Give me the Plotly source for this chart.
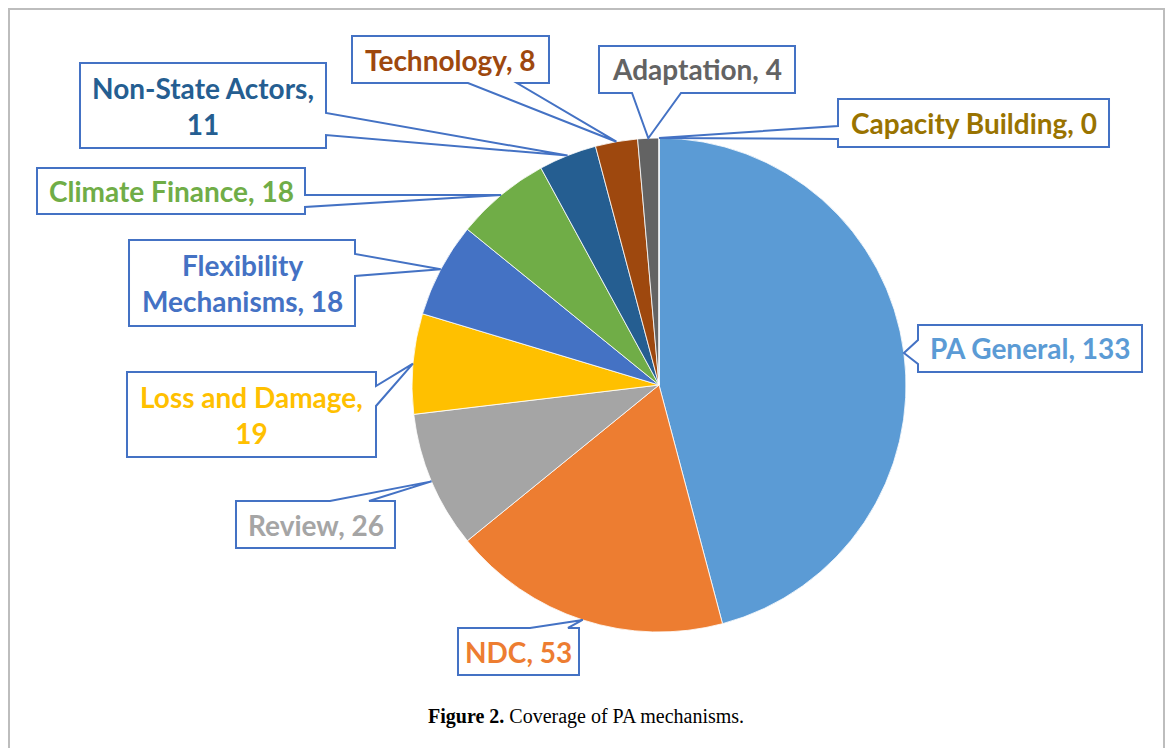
import math
import plotly.graph_objects as go

W, H = 1168, 748

categories = ["PA General", "NDC", "Review", "Loss and Damage", "Flexibility Mechanisms",
              "Climate Finance", "Non-State Actors", "Technology", "Adaptation", "Capacity Building"]
values = [133, 53, 26, 19, 18, 18, 11, 8, 4, 0]
colors = ["#5B9BD5", "#ED7D31", "#A5A5A5", "#FFC000", "#4472C4",
          "#70AD47", "#255E91", "#9E480E", "#636363", "#997300"]
label_text = ["PA General, 133", "NDC, 53", "Review, 26", "Loss and Damage,<br>19",
              "Flexibility<br>Mechanisms, 18", "Climate Finance, 18", "Non-State Actors,<br>11",
              "Technology, 8", "Adaptation, 4", "Capacity Building, 0"]

# callout layout (pixels): box x0, y0, x1, y1, side of wedge, wedge start/end along that side
callouts = [
    (918, 325, 1142, 372, "left", 340, 364),
    (458, 628, 579, 675, "top", 530, 568),
    (236, 501, 395, 548, "top", 330, 369),
    (127, 372, 376, 457, "right", 386, 406),
    (129, 240, 355, 326, "right", 254, 276),
    (37, 168, 305, 214, "right", 195, 207),
    (80, 63, 326, 148, "right", 113, 135),
    (352, 36, 549, 83, "bottom", 468, 517),
    (599, 46, 795, 93, "bottom", 632, 681),
    (838, 99, 1109, 147, "left", 126, 139),
]

# pie geometry (pixels)
CX, CY, R = 659, 385, 247

def px(x):
    return x / W

def py(y):
    return 1 - y / H

fig = go.Figure()
fig.add_trace(go.Pie(
    labels=categories, values=values, sort=False, direction="clockwise", rotation=0,
    marker=dict(colors=colors, line=dict(color="white", width=0.8)),
    textinfo="none", showlegend=False,
    domain=dict(x=[px(CX - R), px(CX + R)], y=[py(CY + R), py(CY - R)]),
))

total = sum(values)
cum = 0
shapes = []
annotations = []
for i, v in enumerate(values):
    mid = (cum + v / 2) / total * 2 * math.pi
    cum += v
    tx = CX + R * math.sin(mid)
    ty = CY - R * math.cos(mid)
    x0, y0, x1, y1, side, a, b = callouts[i]
    if side == "right":
        pts = [(x0, y0), (x1, y0), (x1, a), (tx, ty), (x1, b), (x1, y1), (x0, y1)]
    elif side == "left":
        pts = [(x0, y0), (x1, y0), (x1, y1), (x0, y1), (x0, b), (tx, ty), (x0, a)]
    elif side == "top":
        pts = [(x0, y0), (a, y0), (tx, ty), (b, y0), (x1, y0), (x1, y1), (x0, y1)]
    else:
        pts = [(x0, y0), (x1, y0), (x1, y1), (b, y1), (tx, ty), (a, y1), (x0, y1)]
    path = "M " + " L ".join(f"{px(p[0]):.5f},{py(p[1]):.5f}" for p in pts) + " Z"
    shapes.append(dict(type="path", path=path, xref="paper", yref="paper",
                       fillcolor="white", line=dict(color="#4472C4", width=2), layer="above"))
    annotations.append(dict(
        x=px((x0 + x1) / 2), y=py((y0 + y1) / 2), xref="paper", yref="paper",
        text=label_text[i], showarrow=False, align="center",
        xanchor="center", yanchor="middle",
        font=dict(family="Lato", size=28, color=colors[i], weight="bold"),
    ))

# outer frame
shapes.append(dict(type="rect", xref="paper", yref="paper",
                   x0=px(9), y0=py(775), x1=px(1164), y1=py(9),
                   line=dict(color="#BDBDBD", width=2), fillcolor="rgba(0,0,0,0)", layer="below"))

annotations.append(dict(
    x=px(586), y=py(716), xref="paper", yref="paper", showarrow=False,
    text="<b>Figure 2.</b> Coverage of PA mechanisms.",
    font=dict(family="Liberation Serif", size=20, color="black"),
    xanchor="center", yanchor="middle",
))

fig.update_layout(
    width=W, height=H, margin=dict(l=0, r=0, t=0, b=0),
    paper_bgcolor="white", plot_bgcolor="white",
    shapes=shapes, annotations=annotations,
)

fig.write_html("out.html", config={"displayModeBar": False},
               post_script="document.body.style.margin='0px';")
